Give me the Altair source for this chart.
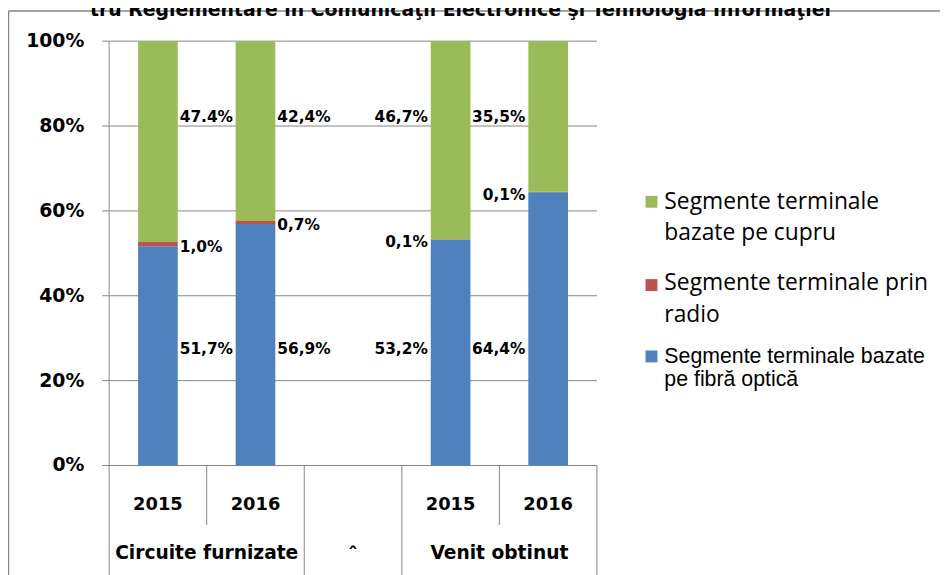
import altair as alt
import pandas as pd

# ---------------- data ----------------
categories = ["C2015", "C2016", "GAP", "V2015", "V2016"]
cat_labels = ["2015", "2016", "", "2015", "2016"]
group_of_cat = ["Circuite furnizate", "Circuite furnizate", "", "Venit obtinut", "Venit obtinut"]
group_names = ["Circuite furnizate", "Venit obtinut"]
group_anchor = ["C2015", "V2015"]  # label centred on the right edge of these bands

series = [
    "Segmente terminale bazate pe fibră optică",
    "Segmente terminale prin radio",
    "Segmente terminale bazate pe cupru",
]
colors = ["#4F81BD", "#C0504D", "#9BBB59"]

fibra = [51.7, 56.9, None, 53.2, 64.4]
radio = [1.0, 0.7, None, 0.1, 0.1]
cupru = [47.4, 42.4, None, 46.7, 35.5]

label_fibra = ["51,7%", "56,9%", "", "53,2%", "64,4%"]
label_radio = ["1,0%", "0,7%", "", "0,1%", "0,1%"]
label_cupru = ["47.4%", "42,4%", "", "46,7%", "35,5%"]

y_ticks = [0, 0.2, 0.4, 0.6, 0.8, 1.0]
y_tick_labels = ["0%", "20%", "40%", "60%", "80%", "100%"]

legend_lines = [
    ["Segmente terminale", "bazate pe cupru"],
    ["Segmente terminale prin", "radio"],
    ["Segmente terminale bazate", "pe  fibră optică"],
]
legend_colors = ["#9BBB59", "#C0504D", "#4F81BD"]

title_text = "tru Reglementare în Comunicaţii Electronice şi Tehnologia Informaţiei"

# ---------------- layout constants ----------------
W, H = 492, 428
GRID = "#868686"
BOLD = "DejaVu Sans"
LBL_TOP = 0.822      # fraction where top-segment labels sit
LBL_BOTTOM = 0.274   # fraction where bottom-segment labels sit

rows = []
for i, c in enumerate(categories):
    if fibra[i] is None:
        continue
    tot = fibra[i] + radio[i] + cupru[i]
    side = "right" if group_of_cat[i] == group_names[0] else "left"
    vals = [fibra[i], radio[i], cupru[i]]
    labs = [label_fibra[i], label_radio[i], label_cupru[i]]
    pos = [LBL_BOTTOM, (fibra[i] + radio[i] / 2) / tot - 0.006, LBL_TOP]
    for k in range(3):
        rows.append(dict(cat=c, series=series[k], value=vals[k], order=k,
                         label=labs[k], pos=pos[k], side=side))
df = pd.DataFrame(rows)
one = pd.DataFrame({"k": [0]})

xscale = alt.Scale(domain=categories, paddingInner=0, paddingOuter=0)
yscale = alt.Scale(domain=[0, 1])


def X(bp=None):
    if bp is None:
        return alt.X("cat:N", scale=xscale, axis=None)
    return alt.X("cat:N", scale=xscale, axis=None, bandPosition=bp)


# ---- value axis drawn from the tick list ----
tick_df = pd.DataFrame({"t": y_ticks, "lab": y_tick_labels})
grid = alt.Chart(tick_df).mark_rule(color=GRID, strokeWidth=1).encode(
    y=alt.Y("t:Q", scale=yscale, axis=None), x=alt.value(-7), x2=alt.value(W))
ytext = alt.Chart(tick_df).mark_text(font=BOLD, fontWeight="bold", fontSize=19, align="right",
                                     baseline="middle", color="black").encode(
    y=alt.Y("t:Q", scale=yscale, axis=None), x=alt.value(-25), text="lab:N")
yline = alt.Chart(one).mark_rule(color=GRID, strokeWidth=1).encode(
    x=alt.value(0), y=alt.value(0), y2=alt.value(H + 140))

bars = alt.Chart(df).mark_bar(size=40).encode(
    x=X(),
    y=alt.Y("value:Q", stack="normalize", scale=yscale, axis=None),
    color=alt.Color("series:N", scale=alt.Scale(domain=series, range=colors), legend=None),
    order=alt.Order("order:Q"),
)

txt_common = dict(font=BOLD, fontWeight="bold", fontSize=15.5, baseline="middle", color="black")
labels_right = alt.Chart(df).transform_filter(alt.datum.side == "right").mark_text(
    align="left", dx=22, **txt_common).encode(
    x=X(), y=alt.Y("pos:Q", scale=yscale, axis=None), text="label:N")
labels_left = alt.Chart(df).transform_filter(alt.datum.side == "left").mark_text(
    align="right", dx=-23, **txt_common).encode(
    x=X(), y=alt.Y("pos:Q", scale=yscale, axis=None), text="label:N")

# category axis as a table
cat_df = pd.DataFrame({"cat": categories, "lab": cat_labels})
cat_text = alt.Chart(cat_df).mark_text(font=BOLD, fontWeight="bold", fontSize=18,
                                       baseline="middle", color="black").encode(
    x=X(), y=alt.value(H + 40), text="lab:N")

grp_df = pd.DataFrame({"cat": group_anchor, "lab": group_names})
grp_text = alt.Chart(grp_df).mark_text(font=BOLD, fontWeight="bold", fontSize=18.8,
                                       baseline="middle", color="black").encode(
    x=X(1), y=alt.value(H + 88), text="lab:N")

gap_df = pd.DataFrame({"cat": ["GAP"], "lab": ["ˆ"]})
gap_text = alt.Chart(gap_df).mark_text(font=BOLD, fontWeight="bold", fontSize=20,
                                       baseline="alphabetic", color="black").encode(
    x=X(), y=alt.value(H + 96), text="lab:N")

short_sep = pd.DataFrame({"cat": ["C2016", "V2016"]})
long_sep = pd.DataFrame({"cat": ["GAP", "V2015"]})
end_sep = pd.DataFrame({"cat": ["V2016"]})
rule_style = dict(color=GRID, strokeWidth=1)
sep_short = alt.Chart(short_sep).mark_rule(**rule_style).encode(
    x=X(0), y=alt.value(H), y2=alt.value(H + 60))
sep_long = alt.Chart(long_sep).mark_rule(**rule_style).encode(
    x=X(0), y=alt.value(H), y2=alt.value(H + 140))
sep_end = alt.Chart(end_sep).mark_rule(**rule_style).encode(
    x=X(1), y=alt.value(H), y2=alt.value(H + 140))

# outer frame (left and top edges; the rest is outside the picture)
frame_left = alt.Chart(one).mark_rule(color=GRID, strokeWidth=1.5).encode(
    x=alt.value(-101.5), y=alt.value(-30.5), y2=alt.value(H + 140))
frame_top = alt.Chart(one).mark_rule(color=GRID, strokeWidth=1.5).encode(
    x=alt.value(-101.5), x2=alt.value(W + 350), y=alt.value(-30.5))

title = alt.Chart(one).mark_text(font=BOLD, fontWeight="bold", fontSize=19,
                                 align="right", baseline="alphabetic", color="black").encode(
    x=alt.value(728), y=alt.value(-25), text=alt.value(title_text))

# legend
legend_layers = []
sq_y = [162, 246, 318]
line_y = [[162, 194], [244, 276], [319, 342]]
fonts = [("Open Sans", 23), ("Open Sans", 23), ("Liberation Sans", 21.5)]
for i in range(3):
    legend_layers.append(
        alt.Chart(one).mark_square(size=144, opacity=1, color=legend_colors[i]).encode(
            x=alt.value(547), y=alt.value(sq_y[i])))
    for j, line in enumerate(legend_lines[i]):
        legend_layers.append(
            alt.Chart(one).mark_text(font=fonts[i][0], fontSize=fonts[i][1], align="left",
                                     baseline="middle", color="black").encode(
                x=alt.value(560), y=alt.value(line_y[i][j]), text=alt.value(line)))

chart = alt.layer(
    grid, ytext, bars, yline, labels_right, labels_left, cat_text, grp_text, gap_text,
    sep_short, sep_long, sep_end, frame_left, frame_top, title, *legend_layers
).properties(
    width=W, height=H,
    autosize=alt.AutoSizeParams(type="none"),
    padding={"left": 102, "top": 31, "right": 346, "bottom": 108},
).configure_view(stroke=None)

chart.save("out.html", embed_options={"renderer": "svg", "actions": False})
